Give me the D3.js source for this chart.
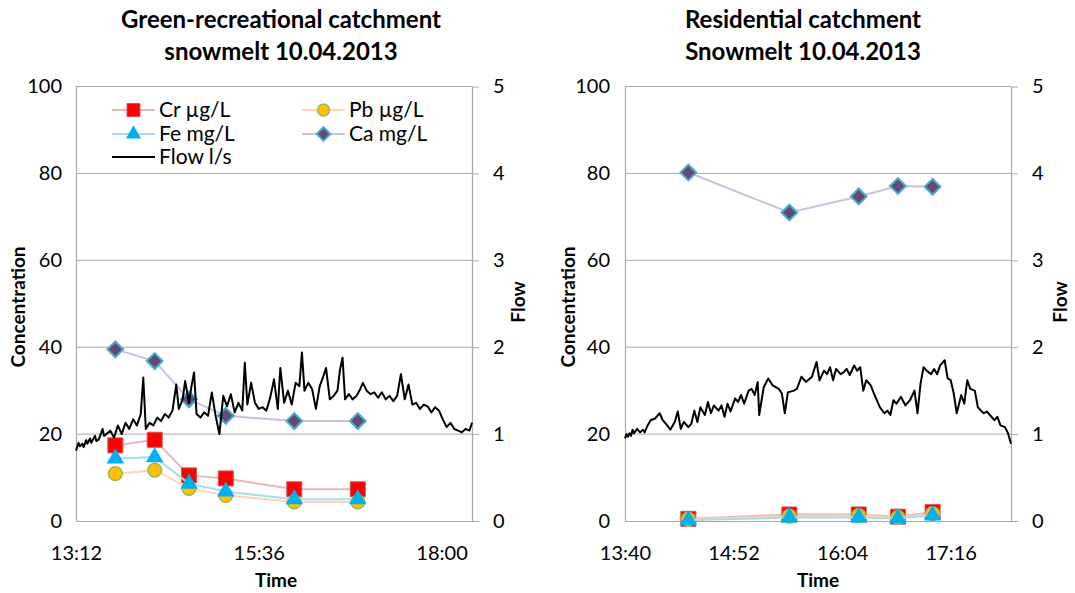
<!DOCTYPE html>
<html>
<head>
<meta charset="utf-8">
<script src="https://cdn.jsdelivr.net/npm/d3@7"></script>
<style>
  body { margin: 0; background: #fff; }
  svg text { font-family: Lato, "Open Sans", sans-serif; fill: #000; }
</style>
</head>
<body>
<svg id="chart" width="1075" height="593"></svg>
<script>
const concTicks = [0, 20, 40, 60, 80, 100];
const flowTicks = [0, 1, 2, 3, 4, 5];
const seriesNames = ['Cr µg/L', 'Pb µg/L', 'Fe mg/L', 'Ca mg/L', 'Flow l/s'];

// green-recreational catchment
const greenTimeTicks = ['13:12', '15:36', '18:00'];
const greenSampleTimes = ['13:43', '14:14', '14:41', '15:10', '16:04', '16:54'];
const greenCr = [17.4, 18.7, 10.5, 9.8, 7.3, 7.3];
const greenPb = [10.9, 11.7, 7.5, 5.9, 4.4, 4.4];
const greenFe = [14.4, 14.7, 8.6, 6.8, 5.0, 5.0];
const greenCa = [39.5, 36.8, 28.0, 24.2, 23.0, 23.0];
const greenFlow = [
  ['13:12',0.81],['13:14',0.90],['13:15',0.86],['13:17',0.89],['13:18',0.85],['13:20',0.93],['13:21',0.89],['13:23',0.95],['13:24',0.90],['13:27',0.98],['13:28',0.92],['13:30',0.94],
  ['13:33',1.06],['13:34',0.98],['13:36',1.00],['13:39',1.04],['13:42',0.96],['13:45',1.10],['13:48',1.00],['13:51',1.13],
  ['13:54',1.06],['13:57',1.17],['14:00',1.10],['14:03',1.23],['14:05',1.65],['14:07',1.06],['14:10',1.13],
  ['14:13',1.10],['14:16',1.19],['14:19',1.15],['14:22',1.23],['14:25',1.19],['14:28',1.27],['14:31',1.57],
  ['14:33',1.29],['14:36',1.40],['14:38',1.61],['14:41',1.36],['14:43',1.55],['14:45',1.71],['14:47',1.23],
  ['14:50',1.19],['14:53',1.25],['14:56',1.21],['14:59',1.48],['15:02',1.21],['15:05',1.00],['15:08',1.44],
  ['15:11',1.32],['15:14',1.46],['15:17',1.25],['15:20',1.36],['15:23',1.27],['15:25',1.82],['15:27',1.34],
  ['15:30',1.59],['15:33',1.36],['15:36',1.29],['15:39',1.31],['15:42',1.27],['15:45',1.42],['15:48',1.63],
  ['15:51',1.29],['15:53',1.76],['15:56',1.36],['15:59',1.50],['16:02',1.34],['16:05',1.59],['16:08',1.55],
  ['16:10',1.94],['16:12',1.50],['16:15',1.59],['16:18',1.52],['16:21',1.29],['16:24',1.55],['16:27',1.67],
  ['16:29',1.76],['16:32',1.40],['16:35',1.44],['16:38',1.50],['16:40',1.74],['16:42',1.88],['16:44',1.40],
  ['16:47',1.46],['16:50',1.40],['16:53',1.44],['16:56',1.52],['16:58',1.59],['17:01',1.50],['17:04',1.46],
  ['17:07',1.48],['17:10',1.42],['17:13',1.48],['17:16',1.40],['17:19',1.44],['17:22',1.38],['17:25',1.44],
  ['17:28',1.69],['17:31',1.40],['17:34',1.57],['17:37',1.34],['17:40',1.36],['17:43',1.29],['17:46',1.34],
  ['17:49',1.32],['17:52',1.25],['17:55',1.31],['17:58',1.27],['18:01',1.17],['18:04',1.08],['18:07',1.13],
  ['18:10',1.06],['18:13',1.04],['18:16',1.02],['18:19',1.06],['18:22',1.04],['18:24',1.13]
];

// residential catchment
const resTimeTicks = ['13:40', '14:52', '16:04', '17:16'];
const resSampleTimes = ['14:22', '15:29', '16:15', '16:41', '17:04'];
const resCr = [0.5, 1.5, 1.5, 1.0, 2.1];
const resPb = [0.4, 1.1, 1.2, 0.8, 1.7];
const resFe = [0.2, 0.8, 0.8, 0.6, 1.3];
const resCa = [80.2, 71.0, 74.7, 77.1, 76.9];
const resFlow = [
  ['13:40',0.95],['13:41',1.00],['13:42',0.97],['13:43',1.01],['13:44',0.98],['13:45',1.05],['13:46',1.01],['13:48',1.06],['13:50',1.02],['13:52',1.05],['13:53',1.02],['13:55',1.10],['13:57',1.16],
  ['14:00',1.18],['14:03',1.24],['14:05',1.16],['14:08',1.10],['14:10',1.05],['14:13',1.14],['14:15',1.26],
  ['14:17',1.06],['14:19',1.14],['14:22',1.08],['14:24',1.12],['14:26',1.27],['14:28',1.14],['14:30',1.31],
  ['14:33',1.22],['14:35',1.37],['14:37',1.24],['14:39',1.33],['14:42',1.27],['14:44',1.33],['14:46',1.20],
  ['14:48',1.35],['14:50',1.26],['14:53',1.41],['14:55',1.37],['14:57',1.45],['14:59',1.35],['15:02',1.50],
  ['15:04',1.52],['15:06',1.45],['15:08',1.60],['15:09',1.22],['15:12',1.54],['15:15',1.64],['15:18',1.56],
  ['15:22',1.52],['15:24',1.47],['15:26',1.24],['15:28',1.48],['15:32',1.50],['15:34',1.52],['15:37',1.66],
  ['15:40',1.60],['15:44',1.66],['15:47',1.83],['15:49',1.62],['15:52',1.73],['15:54',1.69],['15:56',1.77],
  ['15:58',1.62],['16:00',1.75],['16:03',1.69],['16:05',1.71],['16:07',1.75],['16:09',1.68],['16:12',1.79],
  ['16:14',1.73],['16:16',1.77],['16:18',1.50],['16:20',1.62],['16:23',1.56],['16:25',1.47],['16:27',1.39],
  ['16:29',1.31],['16:32',1.24],['16:34',1.27],['16:36',1.22],['16:38',1.39],['16:40',1.35],['16:43',1.43],
  ['16:46',1.33],['16:49',1.39],['16:52',1.50],['16:54',1.24],['16:56',1.58],['16:58',1.77],['17:00',1.73],
  ['17:03',1.69],['17:05',1.75],['17:07',1.69],['17:09',1.79],['17:12',1.85],['17:14',1.64],['17:16',1.62],
  ['17:18',1.47],['17:20',1.24],['17:23',1.45],['17:25',1.35],['17:27',1.62],['17:29',1.52],['17:32',1.50],
  ['17:34',1.31],['17:36',1.27],['17:38',1.24],['17:40',1.26],['17:43',1.20],['17:45',1.16],['17:47',1.20],
  ['17:49',1.10],['17:52',1.08],['17:54',1.01],['17:56',0.89]
];

const parse = d3.timeParse('%H:%M');
const fmt = d3.timeFormat('%H:%M');
const svg = d3.select('#chart');
const gridColor = '#a9a9a9';

// marker looks per series: Cr, Pb, Fe, Ca
const styles = [
  { line: '#e6b9b8', type: d3.symbolSquare, size: 225, fill: '#ff0000', stroke: '#d9534f', sw: 1, rot: 0 },
  { line: '#fcd5b5', type: d3.symbolCircle, size: 150, fill: '#ffc000', stroke: '#9bbb59', sw: 1.5, rot: 0 },
  { line: '#a9dcea', type: d3.symbolTriangle, size: 120, fill: '#00b0f0', stroke: '#00b0f0', sw: 0.5, rot: 0 },
  { line: '#ccc1da', type: d3.symbolSquare, size: 125, fill: '#604a7b', stroke: '#4bacc6', sw: 2, rot: 45 }
];

function drawPanel(p) {
  const x = d3.scaleTime().domain(p.domain.map(parse)).range([p.x0, p.x1]);
  const yC = d3.scaleLinear().domain([0, 100]).range([521, 86.5]);
  const yF = d3.scaleLinear().domain([0, 5]).range([521, 86.5]);
  const g = svg.append('g');

  g.selectAll('line.grid')
   .data(concTicks.slice(1)).enter()
   .append('line')
   .attr('class', 'grid')
   .attr('x1', p.x0).attr('x2', p.x1)
   .attr('y1', d => yC(d)).attr('y2', d => yC(d))
   .attr('stroke', gridColor).attr('stroke-width', 1);

  const yAxis = g.append('g')
   .attr('transform', `translate(${p.x0},0)`)
   .call(d3.axisLeft(yC).tickValues(concTicks).tickSize(0).tickSizeOuter(0).tickPadding(p.x0 === 76 ? 14 : 15));

  const fAxis = g.append('g')
   .attr('transform', `translate(${p.x1},0)`)
   .call(d3.axisRight(yF).tickValues(flowTicks).tickFormat(d3.format('d')).tickSize(7).tickSizeOuter(0).tickPadding(14));

  const xAxis = g.append('g')
   .attr('transform', 'translate(0,521)')
   .call(d3.axisBottom(x).tickValues(p.ticks.map(parse)).tickFormat(fmt).tickSize(0).tickSizeOuter(0).tickPadding(25));

  [yAxis, fAxis, xAxis].forEach(a => {
    a.select('.domain').attr('stroke', gridColor).attr('stroke-width', 1.2);
    a.selectAll('.tick line').attr('stroke', gridColor);
    a.selectAll('.tick text').style('font-size', '20px').attr('fill', '#000');
  });

  // concentration series
  const samples = p.times.map(parse);
  p.series.forEach((vals, i) => {
    const s = styles[i];
    const pts = vals.map((v, j) => [samples[j], v]);
    g.append('path')
     .datum(pts)
     .attr('fill', 'none')
     .attr('stroke', s.line)
     .attr('stroke-width', 2)
     .attr('d', d3.line().x(d => x(d[0])).y(d => yC(d[1])));
    g.selectAll(null)
     .data(pts).enter()
     .append('path')
     .attr('d', d3.symbol().type(s.type).size(s.size))
     .attr('transform', d => `translate(${x(d[0])},${yC(d[1])}) rotate(${s.rot})`)
     .attr('fill', s.fill)
     .attr('stroke', s.stroke)
     .attr('stroke-width', s.sw);
  });

  // flow, secondary axis
  g.append('path')
   .datum(p.flow)
   .attr('fill', 'none')
   .attr('stroke', '#000')
   .attr('stroke-width', 2)
   .attr('stroke-linejoin', 'round')
   .attr('d', d3.line().x(d => x(parse(d[0]))).y(d => yF(d[1])));

  // titles
  const title = g.append('text')
   .attr('text-anchor', 'middle')
   .style('font-size', '24px')
   .style('font-weight', 'bold');
  title.append('tspan').attr('x', p.titleX).attr('y', 28).text(p.title[0]);
  title.append('tspan').attr('x', p.titleX).attr('y', 60).text(p.title[1]);

  g.append('text')
   .attr('transform', `translate(${p.concLabelX},307) rotate(-90)`)
   .attr('text-anchor', 'middle').attr('dy', '0.35em')
   .style('font-size', '19px').style('font-weight', 'bold')
   .text('Concentration');

  g.append('text')
   .attr('transform', `translate(${p.flowLabelX},302) rotate(-90)`)
   .attr('text-anchor', 'middle').attr('dy', '0.35em')
   .style('font-size', '19px').style('font-weight', 'bold')
   .text('Flow');

  g.append('text')
   .attr('x', p.timeX).attr('y', 587)
   .attr('text-anchor', 'middle')
   .style('font-size', '19px').style('font-weight', 'bold')
   .text('Time');
}

drawPanel({
  x0: 76, x1: 472, domain: ['13:12', '18:24'], ticks: greenTimeTicks,
  times: greenSampleTimes, series: [greenCr, greenPb, greenFe, greenCa], flow: greenFlow,
  title: ['Green-recreational catchment', 'snowmelt 10.04.2013'], titleX: 281,
  concLabelX: 18, flowLabelX: 518, timeX: 276
});

drawPanel({
  x0: 625, x1: 1011, domain: ['13:40', '17:56'], ticks: resTimeTicks,
  times: resSampleTimes, series: [resCr, resPb, resFe, resCa], flow: resFlow,
  title: ['Residential catchment', 'Snowmelt 10.04.2013'], titleX: 803,
  concLabelX: 568, flowLabelX: 1060, timeX: 818
});

// legend in the left panel
const legendPos = [[112, 110], [302, 110], [112, 134], [302, 134], [112, 157]];
const legend = svg.append('g').attr('id', 'legend');
const items = legend.selectAll('g')
  .data(seriesNames).enter()
  .append('g')
  .attr('transform', (d, i) => `translate(${legendPos[i][0]},${legendPos[i][1]})`);

items.append('line')
  .attr('x1', 0).attr('x2', 43).attr('y1', 0).attr('y2', 0)
  .attr('stroke', (d, i) => i < 4 ? styles[i].line : '#000')
  .attr('stroke-width', 2);

items.filter((d, i) => i < 4)
  .append('path')
  .attr('d', (d, i) => d3.symbol().type(styles[i].type).size(styles[i].size * 0.75)())
  .attr('transform', (d, i) => `translate(21.5,0) rotate(${styles[i].rot})`)
  .attr('fill', (d, i) => styles[i].fill)
  .attr('stroke', (d, i) => styles[i].stroke)
  .attr('stroke-width', (d, i) => styles[i].sw);

items.append('text')
  .attr('x', 47).attr('dy', '0.35em')
  .style('font-size', '21px')
  .text(d => d);
</script>
</body>
</html>
